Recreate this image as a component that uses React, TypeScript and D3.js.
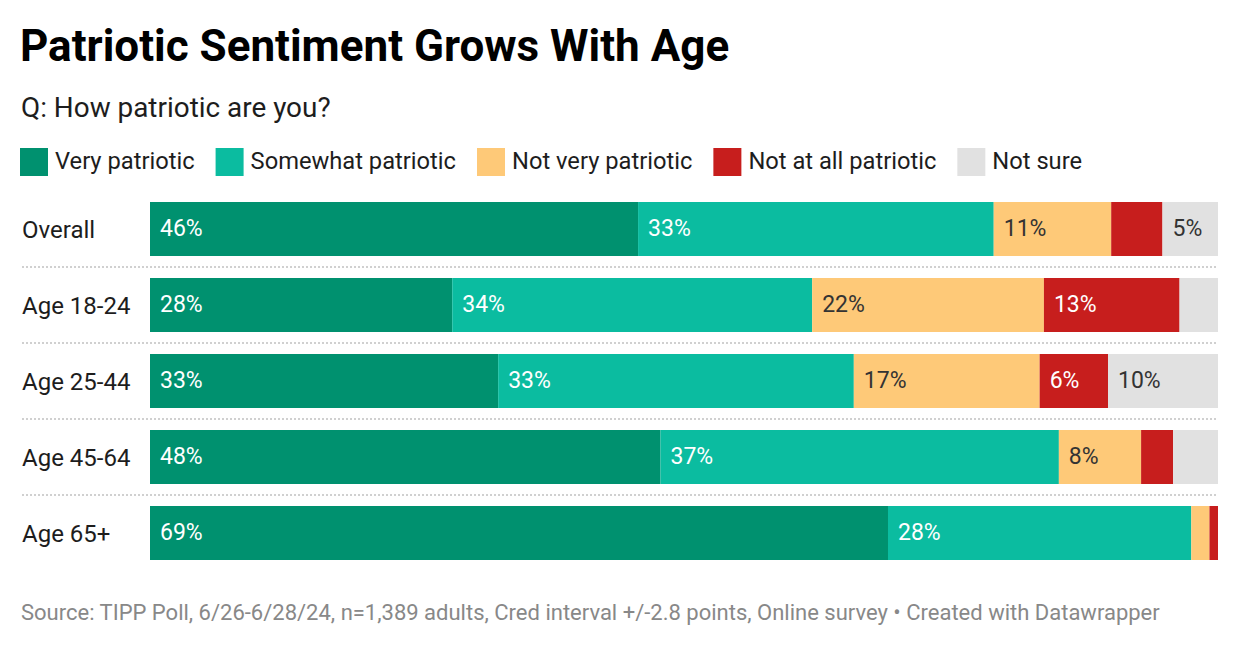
import React, { useEffect, useRef } from 'react';
import * as d3 from 'd3';

const categories = ['Overall', 'Age 18-24', 'Age 25-44', 'Age 45-64', 'Age 65+'];
const seriesNames = ['Very patriotic', 'Somewhat patriotic', 'Not very patriotic', 'Not at all patriotic', 'Not sure'];
const veryPatriotic = [45.7, 28.3, 32.6, 47.8, 69.1];
const somewhatPatriotic = [33.3, 33.7, 33.3, 37.3, 28.4];
const notVeryPatriotic = [11.0, 21.7, 17.4, 7.7, 1.7];
const notAtAllPatriotic = [4.8, 12.7, 6.4, 3.0, 0.8];
const notSure = [5.2, 3.6, 10.3, 4.2, 0.0];

const seriesValues = [veryPatriotic, somewhatPatriotic, notVeryPatriotic, notAtAllPatriotic, notSure];
const colors = ['#00916f', '#0bbca0', '#fec978', '#c71e1d', '#e1e1e1'];
const labelColors = ['#ffffff', '#ffffff', '#333333', '#ffffff', '#333333'];

const W = 1240;
const H = 648;
const FONT = 'Roboto, "Noto Sans", sans-serif';

export default function App() {
  const ref = useRef<SVGSVGElement | null>(null);

  useEffect(() => {
    document.body.style.margin = '0';
    const svg = d3.select(ref.current);
    svg.selectAll('*').remove();

    // Title
    svg.append('text').attr('x', 20).attr('y', 61).attr('font-family', FONT)
      .attr('font-size', 44).attr('font-weight', 700).attr('fill', '#000')
      .text('Patriotic Sentiment Grows With Age');
    svg.append('text').attr('x', 21).attr('y', 117).attr('font-family', FONT)
      .attr('font-size', 27.9).attr('fill', '#1d1d1d')
      .text('Q: How patriotic are you?');

    // Legend
    let lx = 20;
    seriesNames.forEach((name, i) => {
      const g = svg.append('g');
      g.append('rect').attr('x', lx).attr('y', 148).attr('width', 28).attr('height', 28).attr('fill', colors[i]);
      const t = g.append('text').attr('x', lx + 35).attr('y', 169).attr('font-family', FONT)
        .attr('font-size', 23.7).attr('fill', '#1d1d1d').text(name);
      const w = (t.node() as SVGTextElement).getComputedTextLength();
      lx = lx + 35 + w + 21;
    });

    const rows = categories.map((c, i) => {
      const r: any = { category: c };
      seriesNames.forEach((s, j) => { r[s] = seriesValues[j][i]; });
      return r;
    });

    const x = d3.scaleLinear().domain([0, 100]).range([150, 1218]);
    const y = d3.scaleBand<string>().domain(categories).range([191, 191 + 76 * 5])
      .paddingInner(22 / 76).paddingOuter(11 / 76);

    const stack = d3.stack<any>().keys(seriesNames);
    const stacked = stack(rows);

    // separators
    categories.slice(1).forEach((c) => {
      const yy = (y(c) as number) - 11;
      svg.append('line').attr('x1', 22).attr('x2', 1218).attr('y1', yy).attr('y2', yy)
        .attr('stroke', '#d0d0d0').attr('stroke-width', 2).attr('stroke-dasharray', '2,2');
    });

    // category labels
    categories.forEach((c) => {
      svg.append('text').attr('x', 22).attr('y', (y(c) as number) + y.bandwidth() / 2)
        .attr('dy', '0.38em').attr('font-family', FONT).attr('font-size', 24).attr('fill', '#1d1d1d')
        .text(c);
    });

    stacked.forEach((layer, si) => {
      const g = svg.append('g');
      g.selectAll('rect').data(layer).join('rect')
        .attr('x', (d: any) => x(d[0]))
        .attr('y', (d: any) => y(d.data.category) as number)
        .attr('width', (d: any) => Math.max(0, x(d[1]) - x(d[0])))
        .attr('height', y.bandwidth())
        .attr('fill', colors[si]);
      g.selectAll('text').data(layer.filter((d: any) => x(d[1]) - x(d[0]) > 53)).join('text')
        .attr('x', (d: any) => x(d[0]) + 10)
        .attr('y', (d: any) => (y(d.data.category) as number) + y.bandwidth() / 2)
        .attr('dy', '0.3em')
        .attr('font-family', FONT).attr('font-size', 23)
        .attr('fill', labelColors[si])
        .text((d: any) => `${Math.round(d[1] - d[0])}%`);
    });

    // footer
    svg.append('text').attr('x', 21).attr('y', 620).attr('font-family', FONT)
      .attr('font-size', 22).attr('fill', '#888888')
      .text('Source: TIPP Poll, 6/26-6/28/24, n=1,389 adults, Cred interval +/-2.8 points, Online survey \u2022 Created with Datawrapper');
  }, []);

  return <svg ref={ref} width={W} height={H} style={{ display: 'block', background: '#fff' }} />;
}
